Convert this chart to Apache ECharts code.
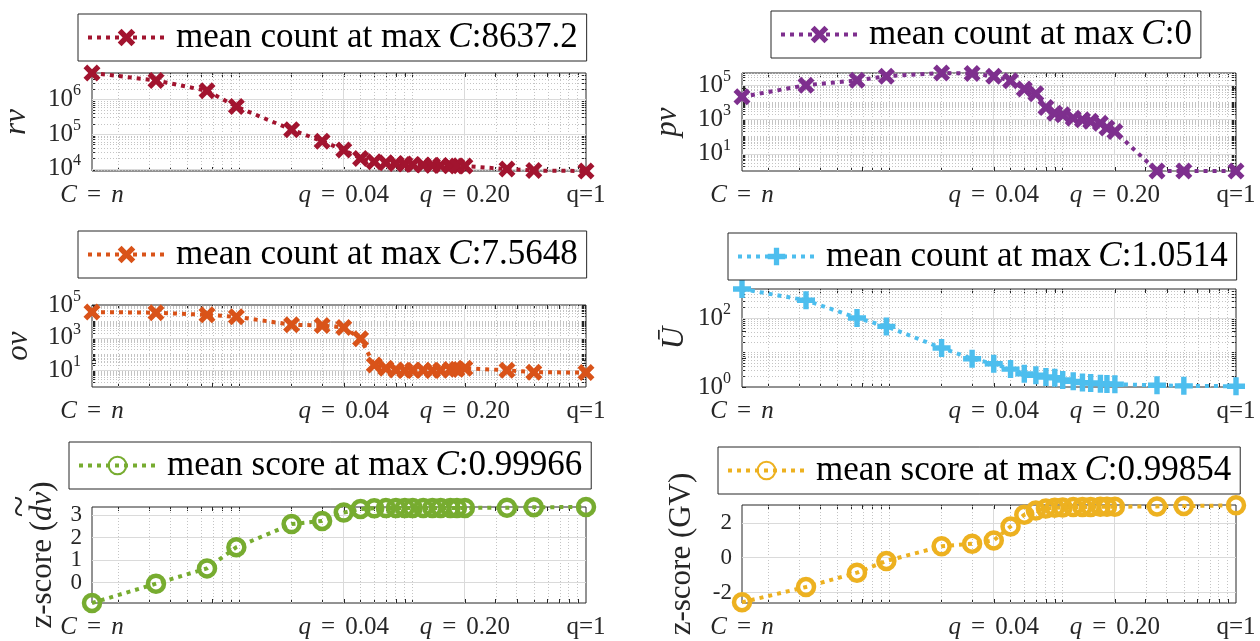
<!DOCTYPE html>
<html>
<head>
<meta charset="utf-8">
<script src="https://cdn.jsdelivr.net/npm/echarts@6/dist/echarts.min.js"></script>
<style>
  html, body { margin: 0; padding: 0; background: #fff; }
  #main { width: 1260px; height: 641px; }
</style>
</head>
<body>
<div id="main"></div>
<script>
// x positions (q), first point is C = n
const qVals = [0.00141, 0.0033, 0.0065, 0.0096, 0.02, 0.03, 0.04, 0.05, 0.06, 0.07, 0.08,
  0.09, 0.1, 0.115, 0.13, 0.145, 0.165, 0.18, 0.2, 0.35, 0.5, 1];
const xTickVals = [0.00141, 0.04, 0.2, 1];
const xTickText = ['C = n', 'q = 0.04', 'q = 0.20', 'q=1'];

// series values
const rv = [5.9e6, 3.6e6, 1.8e6, 6.3e5, 1.35e5, 6.3e4, 3.5e4, 2.0e4, 1.6e4, 1.5e4, 1.42e4,
  1.38e4, 1.33e4, 1.29e4, 1.26e4, 1.24e4, 1.22e4, 1.21e4, 1.2e4, 9.8e3, 8.9e3, 8637.2];
const pv = [2.1e4, 1.0e5, 1.9e5, 3.3e5, 5.1e5, 4.7e5, 3.3e5, 1.8e5, 6.0e4, 3.2e4, 5.0e3,
  2.3e3, 1.9e3, 1.2e3, 950, 800, 600, 320, 200, 1, 1, 1];
const ov = [3.7e4, 3.4e4, 2.5e4, 1.9e4, 6.3e3, 5.6e3, 4.3e3, 870, 22, 14, 11,
  10, 10.5, 10.5, 10.3, 10.5, 11.5, 12, 14, 10.5, 8.0, 7.5648];
const uBar = [690, 325, 100, 57, 13.5, 6.6, 4.7, 3.3, 2.4, 2.2, 1.95,
  1.85, 1.6, 1.46, 1.34, 1.3, 1.25, 1.22, 1.2, 1.12, 1.08, 1.0514];
const dvZ = [-0.91, -0.05, 0.63, 1.57, 2.6, 2.74, 3.11, 3.27, 3.3, 3.31, 3.32,
  3.32, 3.32, 3.32, 3.32, 3.32, 3.31, 3.31, 3.32, 3.33, 3.35, 3.36];
const gvZ = [-2.56, -1.68, -0.86, -0.19, 0.65, 0.8, 0.99, 1.79, 2.46, 2.7, 2.82,
  2.86, 2.88, 2.9, 2.91, 2.91, 2.92, 2.92, 2.92, 2.94, 2.96, 3.0];

// y limits and labelled ticks
const rvLim = [8637.2, 5.9e6], rvTicks = [1e4, 1e5, 1e6];
const pvLim = [1, 5.1e5], pvTicks = [10, 1e3, 1e5];
const ovLim = [1, 1e5], ovTicks = [10, 1e3, 1e5];
const uLim = [1, 690], uTicks = [1, 100];
const dvLim = [-0.91, 3.36], dvTicks = [0, 1, 2, 3];
const gvLim = [-2.6, 3.02], gvTicks = [-2, 0, 2];

// legend texts
const legendVals = ['8637.2', '0', '7.5648', '1.0514', '0.99966', '0.99854'];

const SERIF = '"Liberation Serif", "Times New Roman", serif';
const INK = '#262626';
const X_PATH = 'path://M0,2.2L2.2,0L5,2.8L7.8,0L10,2.2L7.2,5L10,7.8L7.8,10L5,7.2L2.2,10L0,7.8L2.8,5Z';
const PLUS_PATH = 'path://M3.5,0L6.5,0L6.5,3.5L10,3.5L10,6.5L6.5,6.5L6.5,10L3.5,10L3.5,6.5L0,6.5L0,3.5L3.5,3.5Z';

const panels = [
  { name: 'rv', vals: rv, lim: rvLim, ticks: rvTicks, log: true, color: '#A2142F', sym: X_PATH, size: 17,
    label: 'count', grid: { left: 92, top: 73, width: 494, height: 98 }, legend: { left: 78, top: 14 }, nameGap: 60 },
  { name: 'pv', vals: pv, lim: pvLim, ticks: pvTicks, log: true, color: '#7E2F8E', sym: X_PATH, size: 17,
    label: 'count', grid: { left: 742, top: 73, width: 494, height: 98 }, legend: { left: 771, top: 11 }, nameGap: 59 },
  { name: 'ov', vals: ov, lim: ovLim, ticks: ovTicks, log: true, color: '#D95319', sym: X_PATH, size: 17,
    label: 'count', grid: { left: 92, top: 305, width: 494, height: 82 }, legend: { left: 78, top: 231 }, nameGap: 58 },
  { name: 'U', vals: uBar, lim: uLim, ticks: uTicks, log: true, color: '#4DBEEE', sym: PLUS_PATH, size: 18,
    label: 'count', grid: { left: 742, top: 289, width: 494, height: 98 }, legend: { left: 728, top: 233 }, nameGap: 52 },
  { name: 'dv', vals: dvZ, lim: dvLim, ticks: dvTicks, log: false, color: '#77AC30', sym: 'circle', size: 16,
    label: 'score', grid: { left: 92, top: 507, width: 494, height: 96 }, legend: { left: 69, top: 442 }, nameGap: 34 },
  { name: 'GV', vals: gvZ, lim: gvLim, ticks: gvTicks, log: false, color: '#EDB120', sym: 'circle', size: 16,
    label: 'score', grid: { left: 742, top: 505, width: 494, height: 98 }, legend: { left: 718, top: 447 }, nameGap: 45 }
];

const lg = Math.log10;
const xLo = lg(xTickVals[0]), xHi = lg(xTickVals[xTickVals.length - 1]);
const xMajor = [lg(0.04), lg(0.2)];

function measure(str, font) {
  const c = document.createElement('canvas').getContext('2d');
  c.font = font;
  return c.measureText(str).width;
}

// k*10^e positions strictly inside (lo, hi), in log space
function logMinor(lo, hi, skip) {
  const out = [];
  for (let e = Math.floor(lo); e <= Math.ceil(hi); e++) {
    for (let k = 1; k <= 9; k++) {
      const v = e + lg(k);
      if (v > lo + 1e-6 && v < hi - 1e-6 && !skip.some(s => Math.abs(s - v) < 1e-6)) out.push(v);
    }
  }
  return out;
}

const xMinor = logMinor(xLo, xHi, xMajor);

function xLabel(v) {
  let best = 0;
  xTickVals.forEach((t, i) => { if (Math.abs(lg(t) - v) < Math.abs(lg(xTickVals[best]) - v)) best = i; });
  const s = xTickText[best];
  if (s.indexOf(' = ') < 0) return s;
  const [a, b] = s.split(' = ');
  return '{i|' + a + '}{eq|=}' + (/^[a-z]$/i.test(b) ? '{i|' + b + '}' : b);
}

function yName(p) {
  const fs = 31;
  if (p.name === 'rv' || p.name === 'pv' || p.name === 'ov') return { text: '{i|' + p.name + '}', rich: {} };
  if (p.name === 'U') return { text: '{i|\u016A}', rich: {} };
  if (p.name === 'GV') return { text: 'z-score (GV)', rich: {} };
  // z-score with a wide tilde over dv
  const w1 = measure('z-score (', fs + 'px "Liberation Serif"');
  const w2 = measure('dv', 'italic ' + fs + 'px "Liberation Serif"');
  const w3 = measure(')', fs + 'px "Liberation Serif"');
  return {
    text: '{sp| }{tl|~}{sp2| }\n{n|z-score (}{i|dv}{n|)}',
    rich: {
      sp: { width: w1, align: 'center', fontSize: 10, lineHeight: 12 },
      sp2: { width: w3, align: 'center', fontSize: 10, lineHeight: 12 },
      tl: { width: w2, align: 'center', fontFamily: SERIF, fontSize: 40, lineHeight: 12, color: INK },
      n: { align: 'center', fontFamily: SERIF, fontSize: fs, color: INK }
    }
  };
}

const option = {
  animation: false,
  backgroundColor: '#fff',
  grid: [], xAxis: [], yAxis: [], legend: [], series: []
};

const hidden = { show: false };
const noLine = { show: false, onZero: false };
const tick = vals => ({ show: true, inside: true, length: 4, customValues: vals, lineStyle: { color: INK, width: 1 } });

function yLabelCfg(p, vals) {
  return p.log ? {
    customValues: vals, margin: 11, color: INK, showMinLabel: true, showMaxLabel: true, hideOverlap: false,
    formatter: v => '{b|10}{e|' + Math.round(v) + '}',
    rich: {
      b: { fontFamily: SERIF, fontSize: 25, padding: [4, 0, 4, 0], verticalAlign: 'bottom', color: INK },
      e: { fontFamily: SERIF, fontSize: 16, lineHeight: 16, verticalAlign: 'top', color: INK }
    }
  } : {
    customValues: vals, margin: 10, color: INK, fontFamily: SERIF, fontSize: 23,
    showMinLabel: true, showMaxLabel: true, hideOverlap: false,
    formatter: v => String(Math.round(v))
  };
}

panels.forEach((p, gi) => {
  const yLo = p.log ? lg(p.lim[0]) : p.lim[0];
  const yHi = p.log ? lg(p.lim[1]) : p.lim[1];
  const yMajor = p.ticks.map(t => p.log ? lg(t) : t);
  const yMinor = p.log ? logMinor(yLo, yHi, yMajor) : [];
  const xTickAll = xMinor.concat(xMajor);
  const yTickAll = yMinor.concat(yMajor);

  option.grid.push(Object.assign({ show: true, borderColor: INK, borderWidth: 1, backgroundColor: '#fff' }, p.grid));

  const xi = option.xAxis.length;
  option.xAxis.push({
    type: 'value', gridIndex: gi, position: 'bottom', min: xLo, max: xHi,
    axisLine: noLine, splitLine: hidden, axisTick: tick(xTickAll),
    axisLabel: {
      customValues: xTickVals.map(lg), margin: 12, color: INK, fontFamily: SERIF, fontSize: 25,
      showMinLabel: true, showMaxLabel: true, hideOverlap: false,
      formatter: xLabel,
      rich: {
        i: { fontFamily: SERIF, fontStyle: 'italic', fontSize: 25, color: INK },
        eq: { fontFamily: SERIF, fontSize: 25, padding: [0, 10, 0, 10], color: INK }
      }
    }
  });
  option.xAxis.push({
    type: 'value', gridIndex: gi, position: 'top', min: xLo, max: xHi,
    axisLine: noLine, splitLine: hidden, axisTick: tick(xTickAll), axisLabel: hidden
  });

  // tightly spaced linear labels are split over two left axes so none get dropped
  const labA = p.log ? yMajor : yMajor.filter((v, i) => i % 2 === 0);
  const labB = p.log ? [] : yMajor.filter((v, i) => i % 2 === 1);

  const nm = yName(p);
  const yi = option.yAxis.length;
  option.yAxis.push({
    type: 'value', gridIndex: gi, position: 'left', min: yLo, max: yHi,
    axisLine: noLine, splitLine: hidden, axisTick: tick(yTickAll),
    name: nm.text, nameLocation: 'middle', nameRotate: 90, nameGap: p.nameGap,
    nameTextStyle: {
      fontFamily: SERIF, fontSize: 31, color: INK,
      rich: Object.assign({ i: { fontFamily: SERIF, fontStyle: 'italic', fontSize: 31, color: INK } }, nm.rich)
    },
    axisLabel: yLabelCfg(p, labA)
  });
  option.yAxis.push({
    type: 'value', gridIndex: gi, position: 'right', min: yLo, max: yHi,
    axisLine: noLine, splitLine: hidden, axisTick: tick(yTickAll), axisLabel: hidden
  });
  if (labB.length) {
    option.yAxis.push({
      type: 'value', gridIndex: gi, position: 'left', offset: 0, min: yLo, max: yHi,
      axisLine: noLine, splitLine: hidden, axisTick: hidden, axisLabel: yLabelCfg(p, labB)
    });
  }

  const minorStyle = { color: '#c4c4c4', width: 1, type: [1, 2] };
  const majorStyle = { color: '#dadada', width: 1, type: 'solid' };
  option.series.push({
    type: 'line', name: 'grid' + gi, xAxisIndex: xi, yAxisIndex: yi, data: [], z: 1, silent: true,
    markLine: {
      silent: true, symbol: ['none', 'none'], z: 1, animation: false, label: { show: false },
      data: [].concat(
        xMinor.map(v => ({ xAxis: v, lineStyle: minorStyle })),
        yMinor.map(v => ({ yAxis: v, lineStyle: minorStyle })),
        xMajor.map(v => ({ xAxis: v, lineStyle: majorStyle })),
        yMajor.filter(v => v > yLo + 1e-6 && v < yHi - 1e-6).map(v => ({ yAxis: v, lineStyle: majorStyle }))
      )
    }
  });

  const ring = p.sym === 'circle';
  option.series.push({
    type: 'line', name: p.name, xAxisIndex: xi, yAxisIndex: yi, z: 3, clip: false,
    data: qVals.map((q, i) => [lg(q), p.log ? lg(p.vals[i]) : p.vals[i]]),
    symbol: p.sym, symbolSize: p.size,
    lineStyle: { color: p.color, width: 4, type: [4, 5] },
    itemStyle: ring ? { color: 'rgba(0,0,0,0)', borderColor: p.color, borderWidth: 4.5 } : { color: p.color }
  });

  option.legend.push(Object.assign({
    data: [p.name], selectedMode: false, orient: 'horizontal',
    itemWidth: 77, itemHeight: 22, padding: [6, 9, 6, 8],
    borderColor: INK, borderWidth: 1, backgroundColor: '#fff',
    lineStyle: { width: 4 },
    textStyle: {
      fontFamily: SERIF, fontSize: 35, color: '#000',
      rich: {
        g: { width: 6, fontSize: 10 },
        i: { fontFamily: SERIF, fontStyle: 'italic', fontSize: 35, color: '#000' }
      }
    },
    formatter: () => '{g| }mean ' + p.label + ' at max\u2009{i|C}:' + legendVals[gi]
  }, p.legend));
});

const chart = echarts.init(document.getElementById('main'));
chart.setOption(option);
</script>
</body>
</html>
